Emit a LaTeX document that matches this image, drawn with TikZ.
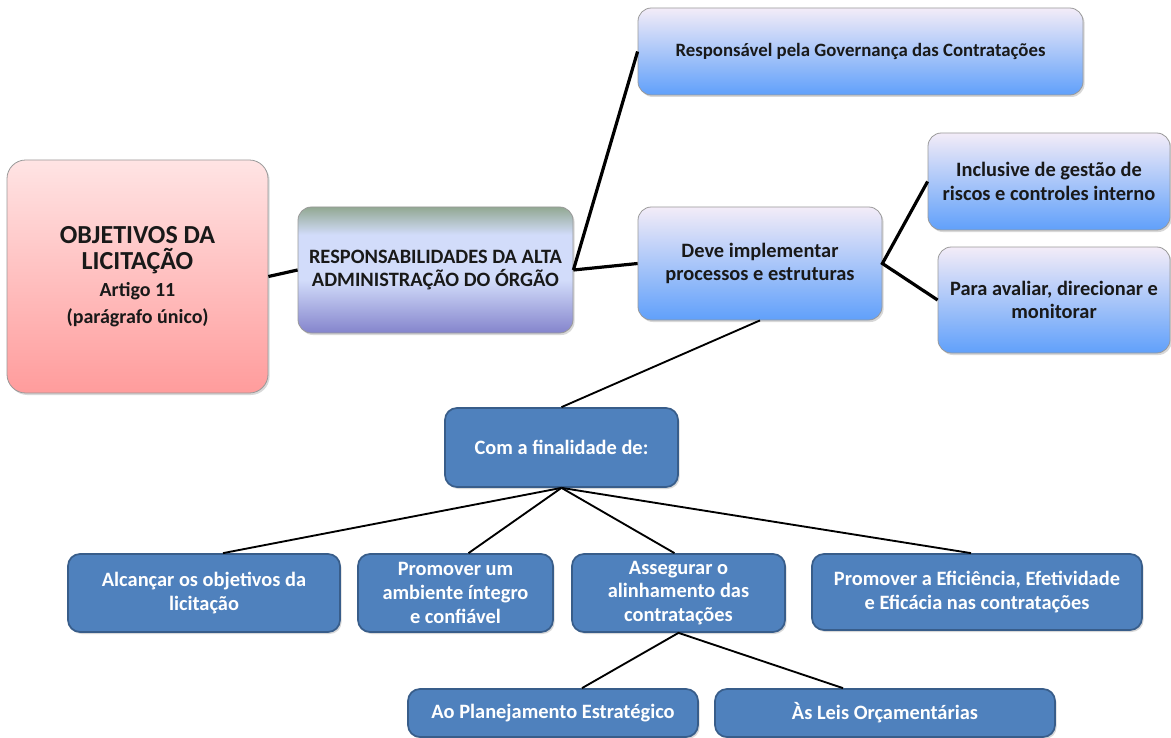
\documentclass[tikz,border=0pt]{standalone}
\usepackage{fontspec}
\setmainfont{Carlito}
\usetikzlibrary{calc,shadows}

\definecolor{pinktop}{RGB}{255,228,228}
\definecolor{pinkbot}{RGB}{255,156,156}
\definecolor{lilatop}{RGB}{243,236,248}
\definecolor{azulbot}{RGB}{96,160,250}
\definecolor{respgrn}{RGB}{146,168,146}
\definecolor{respmid}{RGB}{210,220,250}
\definecolor{respbot}{RGB}{132,132,204}
\definecolor{azulesc}{RGB}{79,129,189}
\definecolor{bordaesc}{RGB}{56,93,138}

% top band greenish, light middle, purple bottom
\pgfdeclareverticalshading{respshade}{100bp}{color(0bp)=(respbot); color(25bp)=(respbot);
  color(46bp)=(respmid); color(64bp)=(respmid); color(75bp)=(respgrn); color(100bp)=(respgrn)}

\tikzset{
  boxsize/.style 2 args={minimum width=#1*0.75pt, minimum height=#2*0.75pt},
  sombra/.style={drop shadow={opacity=0.3,shadow xshift=1.2pt,shadow yshift=-1.5pt}},
  caixa/.style={rounded corners=10pt, inner sep=0pt, align=center, draw=black!40,
    line width=0.6pt, sombra, text=black!90, font=\bfseries\fontsize{15.3}{17.8}\selectfont},
  rosa/.style={caixa, top color=pinktop, bottom color=pinkbot, rounded corners=14pt},
  lila/.style={caixa, shading=respshade},
  azul/.style={caixa, top color=lilatop, bottom color=azulbot},
  escuro/.style={caixa, rounded corners=9pt, fill=azulesc, draw=bordaesc, line width=1.3pt,
    text=white},
  grossa/.style={line width=2.4pt},
  fina/.style={line width=1.4pt}
}

\begin{document}
\begin{tikzpicture}[x=0.75pt,y=-0.75pt]
\fill[white] (0,0) rectangle (1171,738);
\useasboundingbox (0,0) rectangle (1171,738);

\node[rosa,boxsize={261}{233},font=\bfseries\fontsize{19.5}{20}\selectfont] (objetivos) at (137.5,276.5)
  {OBJETIVOS DA\\LICITAÇÃO\\{\fontsize{15}{18}\selectfont Artigo 11}\\
   {\fontsize{15}{18}\selectfont (parágrafo único)}};
\node[lila,boxsize={275}{126}] (responsab) at (435.5,270)
  {RESPONSABILIDADES DA ALTA\\ADMINISTRAÇÃO DO ÓRGÃO};
\node[azul,boxsize={445}{87},font=\bfseries\fontsize{14.1}{17}\selectfont] (governanca) at (860.5,51.5)
  {Responsável pela Governança das Contratações};
\node[azul,boxsize={244}{113}] (implementa) at (760,263.5)
  {Deve implementar\\processos e estruturas};
\node[azul,boxsize={242}{97}] (riscos) at (1049,181.5)
  {Inclusive de gestão de\\riscos e controles interno};
\node[azul,boxsize={232}{106}] (avaliar) at (1054,300)
  {Para avaliar, direcionar e\\monitorar};

\node[escuro,boxsize={233}{79}] (finalidade) at (561.5,447.5) {Com a finalidade de:};
\node[escuro,boxsize={272}{78}] (alcancar) at (204,593) {Alcançar os objetivos da\\licitação};
\node[escuro,boxsize={195}{78}] (ambiente) at (455.5,593) {Promover um\\ambiente íntegro\\e confiável};
\node[escuro,boxsize={213}{78}] (alinhamento) at (678.5,593) {Assegurar o\\alinhamento das\\contratações};
\node[escuro,boxsize={330}{76}] (eficiencia) at (977,592)
  {Promover a Eficiência, Efetividade\\e Eficácia nas contratações};
\node[escuro,boxsize={290}{48}] (planejamento) at (553,713) {Ao Planejamento Estratégico};
\node[escuro,boxsize={340}{48}] (leis) at (885,713) {Às Leis Orçamentárias};

\draw[grossa] (objetivos.east) -- (responsab.west);
\draw[grossa] (responsab.east) -- (governanca.west);
\draw[grossa] (responsab.east) -- (implementa.west);
\draw[grossa] (riscos.west) -- (implementa.east) -- (avaliar.west);
\draw[fina] (implementa.south) -- (finalidade.north);
\draw[fina] (finalidade.south) -- ($(alcancar.north)+(19,0)$);
\draw[fina] (finalidade.south) -- ($(ambiente.north)+(13,0)$);
\draw[fina] (finalidade.south) -- ($(alinhamento.north)+(-4,0)$);
\draw[fina] (finalidade.south) -- ($(eficiencia.north)+(-6,0)$);
\draw[fina] ($(planejamento.north)+(29,0)$) -- (alinhamento.south) -- ($(leis.north)+(-42,0)$);
\end{tikzpicture}
\end{document}
